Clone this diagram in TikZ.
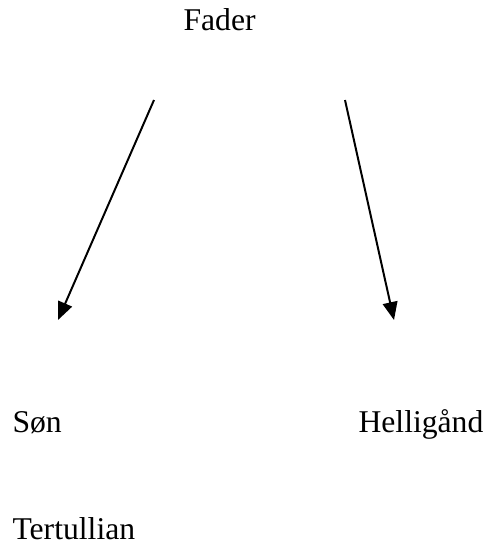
\documentclass[tikz,border=0pt]{standalone}
\usepackage{fontspec}
\setmainfont{Liberation Serif}
\usetikzlibrary{arrows.meta}

\begin{document}
\begin{tikzpicture}[x=0.379pt, y=-0.379pt,
  label/.style={anchor=base west, inner sep=0pt, font=\fontsize{12}{14}\selectfont},
  flow/.style={-{Triangle[length=6.8pt, width=5.6pt]}, line width=0.75pt}]

  % canvas
  \useasboundingbox (0,0) rectangle (488,546);

  % Names
  \node[label] (fader) at (183,31) {Fader};
  \node[label] (son) at (12,432) {Søn};
  \node[label] (aand) at (358,432) {Helligånd};
  \node[label] (tert) at (12,539) {Tertullian};

  % Arrow ends
  \coordinate (fl) at (154,100);
  \coordinate (fr) at (345,100);
  \coordinate (sl) at (58,320);
  \coordinate (sr) at (394,320);

  % Arrows
  \draw[flow] (fl) -- (sl);
  \draw[flow] (fr) -- (sr);

\end{tikzpicture}
\end{document}
